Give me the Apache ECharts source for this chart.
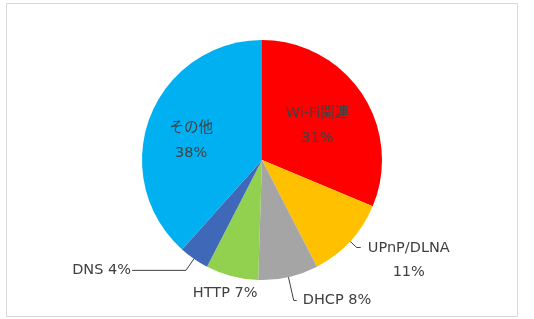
<!DOCTYPE html>
<html>
<head>
<meta charset="utf-8">
<script src="https://cdn.jsdelivr.net/npm/echarts@6/dist/echarts.min.js"></script>
<style>
  html, body { margin: 0; padding: 0; background: #fff; }
  #chart { width: 534px; height: 319px; }
</style>
</head>
<body>
<div id="chart"></div>
<script>
// 各カテゴリと割合（%）
const categories = ['Wi-Fi関連', 'UPnP/DLNA', 'DHCP', 'HTTP', 'DNS', 'その他']
const shares = [31, 11, 8, 7, 4, 38]
const colors = ['#FF0000', '#FFC000', '#A5A5A5', '#92D050', '#4068B8', '#00B0F0']

const textColor = '#404040'
const font = '"DejaVu Sans", Verdana, "Noto Sans CJK JP", sans-serif'

// ラベルの種類ごとの設定
const insideLabel = {
  position: 'inside',
  formatter: '{b}\n{c}%',
  lineHeight: 25
}
const labelStyles = [
  insideLabel,
  {
    position: 'outside',
    formatter: '{t|{b}}\n{t|{c}%}',
    rich: { t: { width: 84, align: 'center', lineHeight: 24 } },
    padding: [26, 0, 0, 0]
  },
  { position: 'outside', formatter: '{b} {c}%' },
  { position: 'inside', formatter: '{b} {c}%' },
  { position: 'outside', formatter: '{b} {c}%', distanceToLabelLine: 1 },
  insideLabel
]
const lineStyles = [
  { show: false },
  { show: true, length: 9, length2: 4 },
  { show: true, length: 24, length2: 3 },
  { show: false },
  { show: true, length: 14, length2: 54 },
  { show: false }
]
// ラベル位置の微調整
const labelShift = [[3, 1], null, null, [-21, 72], null, [-12, 3]]

const chart = echarts.init(document.getElementById('chart'))

const option = {
  animation: false,
  graphic: [{
    type: 'rect',
    shape: { x: 6.5, y: 3.5, width: 511, height: 313 },
    style: { fill: 'none', stroke: '#D9D9D9', lineWidth: 1 },
    silent: true
  }],
  series: [{
    type: 'pie',
    center: [262, 160],
    radius: 120,
    startAngle: 90,
    clockwise: true,
    avoidLabelOverlap: false,
    itemStyle: { borderWidth: 0 },
    label: {
      color: textColor,
      fontFamily: font,
      fontSize: 14.5,
      distanceToLabelLine: 6
    },
    labelLine: {
      lineStyle: { color: '#404040', width: 1 }
    },
    labelLayout: (params) => {
      const s = labelShift[params.dataIndex]
      return s ? { dx: s[0], dy: s[1] } : {}
    },
    data: categories.map((name, i) => ({
      name: name,
      value: shares[i],
      itemStyle: { color: colors[i] },
      label: labelStyles[i],
      labelLine: lineStyles[i]
    }))
  }]
}

chart.setOption(option)
</script>
</body>
</html>
